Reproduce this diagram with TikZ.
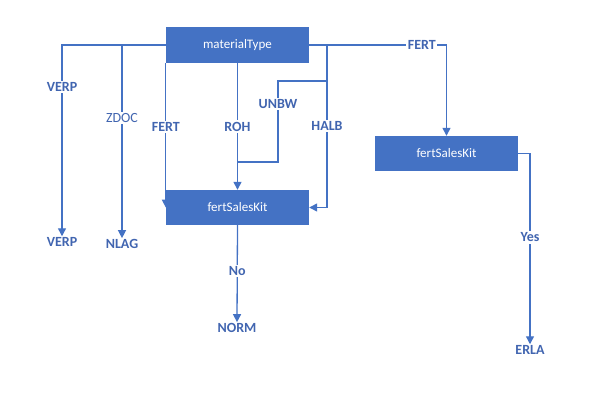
\documentclass[tikz,border=0pt]{standalone}
\usepackage{fontspec}
\setmainfont{Carlito}
\usetikzlibrary{arrows.meta,backgrounds}
\definecolor{boxblue}{HTML}{4472C4}
\definecolor{lblblue}{HTML}{4165B0}
\tikzset{
  box/.style={fill=boxblue, text=white, minimum width=143pt, minimum height=35pt, inner sep=0pt, font=\fontsize{13}{15}\selectfont},
  term/.style={text=lblblue, font=\fontsize{14}{16}\selectfont\bfseries, inner sep=1pt},
  lbl/.style={fill=white, text=lblblue, font=\fontsize{14}{16}\selectfont\bfseries, inner sep=1.5pt},
  conn/.style={draw=boxblue, line width=1.3pt},
  arr/.style={conn, -{Triangle[width=8pt,length=8pt]}}
}
\begin{document}
\begin{tikzpicture}[x=1pt,y=-1pt]
			%%%%% BOUNDS %%%%%
			\useasboundingbox (0,0) rectangle (602,415);
			
			%%%%% BOXES %%%%%
			\node[box, minimum height=36pt] (mt) at (237.5, 45) {materialType};
			\node[box] (fsk) at (237.5, 207.5) {fertSalesKit};
			\node[box] (fsk2) at (446.5, 153.5) {fertSalesKit};
			
			%%%%% RESULTS %%%%%
			\node[term] (verp) at (62, 242) {VERP};
			\node[term] (nlag) at (122, 244) {NLAG};
			\node[term] (norm) at (237, 328) {NORM};
			\node[term] (erla) at (530, 350) {ERLA};
			
			\coordinate (ub) at (327, 81);
			\coordinate (uc) at (278, 162);
			\coordinate (hb) at (327, 45);
			
			%%%%% CONNECTORS %%%%%
			\begin{scope}[on background layer]
			\draw[arr] (mt.west) -| (verp.north) node[lbl, pos=0.61] {VERP};
			\draw[arr] (mt.west -| nlag.north) -- (nlag.north) node[lbl, pos=0.38, font=\fontsize{14}{16}\selectfont] {ZDOC};
			\draw[arr] (mt.south west) -- (fsk.west) node[lbl, pos=0.44] {FERT};
			\draw[arr] (mt.south) -- (fsk.north) node[lbl, pos=0.5] {ROH};
			\draw[conn] (ub) -| (uc) -- (uc -| fsk.north);
			\node[lbl] at (278, 104) {UNBW};
			\draw[arr] (hb) |- (fsk.east) node[lbl, pos=0.25] {HALB};
			\draw[arr] (mt.east) -| (fsk2.north) node[lbl, pos=0.41] {FERT};
			\draw[arr] (fsk2.east) -| (erla.north) node[lbl, pos=0.72] {Yes};
			\draw[arr] (fsk.south) -- (norm.north) node[lbl, pos=0.47] {No};
			\end{scope}
			
			%%%%% END %%%%%
\end{tikzpicture}
\end{document}
